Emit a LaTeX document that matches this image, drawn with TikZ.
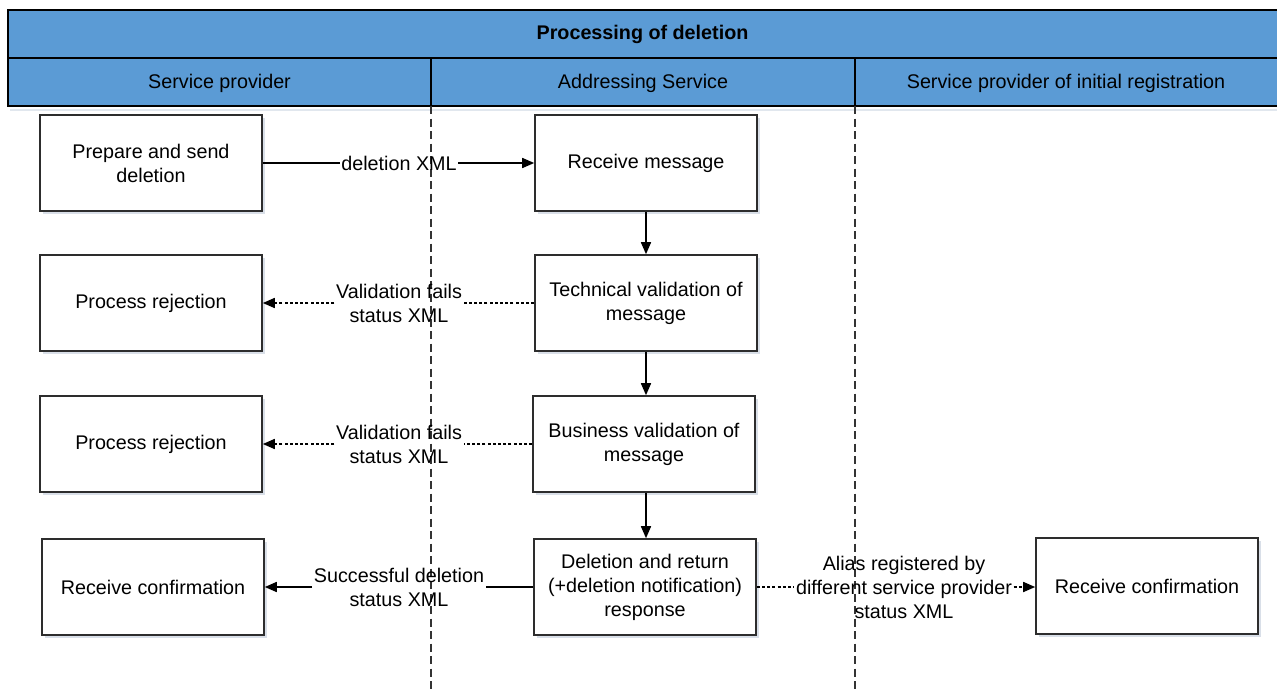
\documentclass[tikz,border=0pt]{standalone}
\usepackage{fontspec}
\setmainfont{Liberation Sans}
\usetikzlibrary{arrows.meta,shadows}
\definecolor{laneblue}{RGB}{91,155,213}
\definecolor{boxline}{RGB}{45,45,45}
\definecolor{shadowcol}{RGB}{170,185,205}

\begin{document}
\begin{tikzpicture}[x=1pt,y=-1pt,
  every node/.style={font=\fontsize{19.75}{24}\selectfont},
  stepbox/.style={draw=boxline,line width=1.6pt,fill=white,
    minimum width=222pt,minimum height=96pt,align=center,inner sep=4pt,
    drop shadow={shadow xshift=2.5pt,shadow yshift=-2.5pt,fill=shadowcol,opacity=0.45}},
  lbl/.style={align=center,inner sep=1.5pt},
  flow/.style={line width=1.6pt,draw=black},
  tip/.style={-{Triangle[length=12pt,width=10pt]}},
  dotted flow/.style={flow,dash pattern=on 3pt off 2.2pt},
  lanehead/.style={draw=black,line width=1.6pt,fill=laneblue},
  lanedash/.style={draw=black!80,line width=1.3pt,dash pattern=on 8pt off 4.5pt}
]
\useasboundingbox (0,0) rectangle (1277,689);

% pool header and lane headers
\fill[shadowcol,opacity=0.35] (10,108.5) rectangle (1279,111);
\draw[lanehead] (8,10) rectangle (1280,58);
\draw[lanehead] (8,58) rectangle (431,106);
\draw[lanehead] (431,58) rectangle (855,106);
\draw[lanehead] (855,58) rectangle (1280,106);
\node[font=\fontsize{19.75}{24}\selectfont\bfseries] (title) at (642.5,34.5) {Processing of deletion};
\node (laneA) at (219.5,83.5) {Service provider};
\node (laneB) at (643,83.5) {Addressing Service};
\node (laneC) at (1066,83.5) {Service provider of initial registration};

% lane separators
\draw[lanedash] (431,106) -- (431,689);
\draw[lanedash] (855,106) -- (855,689);

% activities
\node[stepbox] (prep)  at (151,163) {Prepare and send\\deletion};
\node[stepbox] (recv)  at (646,163) {Receive message};
\node[stepbox] (rej1)  at (151,303) {Process rejection};
\node[stepbox] (tech)  at (646,303) {Technical validation of\\message};
\node[stepbox] (rej2)  at (151,444) {Process rejection};
\node[stepbox] (biz)   at (644,444) {Business validation of\\message};
\node[stepbox] (conf1) at (153,587) {Receive confirmation};
\node[stepbox] (del)   at (645,587) {Deletion and return\\(+deletion notification)\\response};
\node[stepbox] (conf2) at (1147,586) {Receive confirmation};

% message labels
\node[lbl] (m1) at (399,163) {deletion XML};
\node[lbl] (m2) at (399,303) {Validation fails\\status XML};
\node[lbl] (m3) at (399,444) {Validation fails\\status XML};
\node[lbl] (m4) at (399,587) {Successful deletion\\status XML};
\node[lbl] (m5) at (904,587) {Alias registered by\\different service provider\\status XML};

% message flows
\draw[flow] (prep) -- (m1);
\draw[flow,tip] (m1) -- (recv);
\draw[dotted flow] (tech) -- (m2);
\draw[dotted flow,tip] (m2) -- (rej1);
\draw[dotted flow] (biz) -- (m3);
\draw[dotted flow,tip] (m3) -- (rej2);
\draw[flow] (del) -- (m4);
\draw[flow,tip] (m4) -- (conf1);
\draw[dotted flow] (del) -- (m5);
\draw[dotted flow,tip] (m5) -- (conf2.west |- m5);

% sequence flows
\draw[flow,tip] (recv) -- (tech);
\draw[flow,tip] (tech.south) -- (tech.south |- biz.north);
\draw[flow,tip] (tech.south |- biz.south) -- (tech.south |- del.north);
\end{tikzpicture}
\end{document}
